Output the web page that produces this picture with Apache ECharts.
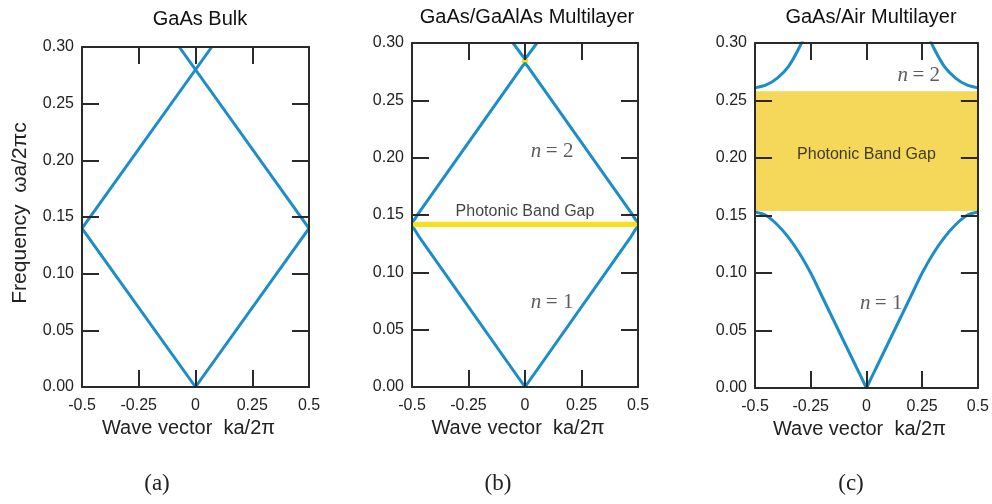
<!DOCTYPE html>
<html>
<head>
<meta charset="utf-8">
<script src="https://cdn.jsdelivr.net/npm/echarts@6/dist/echarts.min.js"></script>
<style>
  html, body { margin: 0; padding: 0; background: #fff; }
  #chart { width: 992px; height: 504px; }
</style>
</head>
<body>
<div id="chart"></div>
<script>
// Photonic band structures of three 1D systems (dispersion ω(k) in the first Brillouin zone)

const xTicks = [-0.5, -0.25, 0, 0.25, 0.5];
const yTicks = [0, 0.05, 0.10, 0.15, 0.20, 0.25, 0.30];

const panelTitles = ['GaAs Bulk', 'GaAs/GaAlAs Multilayer', 'GaAs/Air Multilayer'];
const panelTags = ['(a)', '(b)', '(c)'];

// (a) bulk GaAs: folded light line
const bulkV_k = [-0.5, 0, 0.5];
const bulkV_w = [0.14, 0, 0.14];
const bulkUp1_k = [-0.5, 0.0714];
const bulkUp1_w = [0.14, 0.30];
const bulkUp2_k = [0.5, -0.0714];
const bulkUp2_w = [0.14, 0.30];

// (b) GaAs/GaAlAs: weak contrast, narrow gaps
const mlB1_k = [-0.5, -0.49, -0.47, 0, 0.47, 0.49, 0.5];
const mlB1_w = [0.1395, 0.1378, 0.1314, 0, 0.1314, 0.1378, 0.1395];
const mlB2_k = [-0.5, -0.49, -0.47, -0.015, 0, 0.015, 0.47, 0.49, 0.5];
const mlB2_w = [0.144, 0.1457, 0.1518, 0.2788, 0.2825, 0.2788, 0.1518, 0.1457, 0.144];
const mlB3_k = [-0.053, -0.015, 0, 0.015, 0.053];
const mlB3_w = [0.30, 0.2898, 0.2862, 0.2898, 0.30];
const gapB = [[-0.5, 0.5, 0.1395, 0.1442], [-0.014, 0.014, 0.2825, 0.2862]];

// (c) GaAs/Air: strong contrast, wide gap
const airB1L_k = [-0.5, -0.45, -0.4, -0.35, -0.3, -0.25, -0.2, -0.15, -0.1, -0.05, 0];
const airB1L_w = [0.153, 0.150, 0.142, 0.131, 0.117, 0.100, 0.080, 0.060, 0.040, 0.020, 0];
const airB1R_k = [0, 0.05, 0.1, 0.15, 0.2, 0.25, 0.3, 0.35, 0.4, 0.45, 0.5];
const airB1R_w = [0, 0.020, 0.040, 0.060, 0.080, 0.100, 0.117, 0.131, 0.142, 0.150, 0.153];
const airB2L_k = [-0.5, -0.45, -0.4, -0.35, -0.3, -0.25];
const airB2L_w = [0.261, 0.2635, 0.2695, 0.2795, 0.2965, 0.318];
const airB2R_k = [0.25, 0.3, 0.35, 0.4, 0.45, 0.5];
const airB2R_w = [0.318, 0.2965, 0.2795, 0.2695, 0.2635, 0.261];
const gapC = [[-0.5, 0.5, 0.154, 0.258]];

// annotations [k, ω, text]
const notesB = [[0.12, 0.205, 'n2'], [0.12, 0.074, 'n1'], [0, 0.153, 'gap']];
const notesC = [[0.235, 0.272, 'n2'], [0.066, 0.0735, 'n1'], [0, 0.203, 'gap']];

const BLUE = '#1b8dc8';
const INK = '#2a2a2a';
const grids = [
  { left: 82, top: 47, width: 227, height: 340 },
  { left: 412, top: 43, width: 226, height: 344 },
  { left: 755, top: 43, width: 226, height: 345 }
];
const gapColors = [null, '#f7e11c', '#f5d85a'];

const zip = (ks, ws) => ks.map((k, i) => [k, ws[i]]);

const xAxes = [], yAxes = [], series = [];
grids.forEach((g, i) => {
  const common = {
    gridIndex: i, type: 'value', min: -0.5, max: 0.5, interval: 0.25, z: 5,
    axisLine: { show: true, onZero: false, lineStyle: { color: INK, width: 2 } },
    axisTick: { show: true, inside: true, length: 17, lineStyle: { color: INK, width: 2 } },
    splitLine: { show: false }
  };
  xAxes.push(Object.assign({}, common, {
    position: 'bottom',
    axisLabel: {
      margin: 11, fontFamily: 'Liberation Sans', fontSize: 16, color: '#222',
      formatter: v => (v === 0 ? '0' : String(v))
    },
    name: 'Wave vector  ka/2\u03c0', nameLocation: 'middle', nameGap: 30,
    nameTextStyle: { fontFamily: 'Liberation Sans', fontSize: 20, color: '#222', padding: [0, 14, 0, 0] }
  }));
  xAxes.push(Object.assign({}, common, { position: 'top', axisLabel: { show: false } }));
  const ycommon = {
    gridIndex: i, type: 'value', min: 0, max: 0.3, interval: 0.05, z: 5,
    axisLine: { show: true, onZero: false, lineStyle: { color: INK, width: 2 } },
    axisTick: { show: true, inside: true, length: 17, lineStyle: { color: INK, width: 2 } },
    splitLine: { show: false }
  };
  yAxes.push(Object.assign({}, ycommon, {
    position: 'left',
    axisLabel: { margin: 8, fontFamily: 'Liberation Sans', fontSize: 16, color: '#222', formatter: v => v.toFixed(2) }
  }));
  yAxes.push(Object.assign({}, ycommon, { position: 'right', axisLabel: { show: false } }));
});

function band(panel, ks, ws, smooth) {
  series.push({
    type: 'line', xAxisIndex: panel * 2, yAxisIndex: panel * 2,
    data: zip(ks, ws), symbol: 'none', smooth: smooth || false,
    lineStyle: { color: BLUE, width: 3 }, z: 3, clip: true, silent: true
  });
}
function gaps(panel, rects) {
  series.push({
    type: 'line', xAxisIndex: panel * 2, yAxisIndex: panel * 2, data: [], z: 1, silent: true,
    markArea: {
      silent: true,
      itemStyle: { color: gapColors[panel], opacity: 1 },
      data: rects.map(r => [{ coord: [r[0], r[2]] }, { coord: [r[1], r[3]] }])
    }
  });
}
function notes(panel, list) {
  series.push({
    type: 'scatter', xAxisIndex: panel * 2, yAxisIndex: panel * 2, symbolSize: 0, z: 6, silent: true,
    data: list.map(n => ({
      value: [n[0], n[1]],
      label: {
        show: true, position: 'inside',
        formatter: n[2] === 'gap' ? 'Photonic Band Gap' : '{i|n} {t|= ' + n[2].slice(1) + '}',
        fontFamily: 'Liberation Sans', fontSize: 16, color: '#111',
        rich: {
          i: { fontFamily: 'Liberation Serif', fontStyle: 'italic', fontSize: 21, color: '#333' },
          t: { fontFamily: 'Liberation Serif', fontSize: 21, color: '#333' }
        }
      }
    }))
  });
}

band(0, bulkV_k, bulkV_w);
band(0, bulkUp1_k, bulkUp1_w);
band(0, bulkUp2_k, bulkUp2_w);

gaps(1, gapB);
band(1, mlB1_k, mlB1_w);
band(1, mlB2_k, mlB2_w);
band(1, mlB3_k, mlB3_w);
notes(1, notesB);

gaps(2, gapC);
band(2, airB1L_k, airB1L_w, 0.3);
band(2, airB1R_k, airB1R_w, 0.3);
band(2, airB2L_k, airB2L_w, 0.3);
band(2, airB2R_k, airB2R_w, 0.3);
notes(2, notesC);

const titleCenters = [195, 522, 866];
const tagCenters = [157, 498, 851];

const chart = echarts.init(document.getElementById('chart'), null, { renderer: 'canvas' });
chart.setOption({
  animation: false,
  backgroundColor: '#fff',
  title: panelTitles.map((t, i) => ({
    text: t, left: titleCenters[i], top: i === 0 ? 4 : 2, textAlign: 'center',
    textStyle: { fontFamily: 'Liberation Sans', fontWeight: 'normal', fontSize: 20, color: '#111' }
  })),
  grid: grids,
  xAxis: xAxes,
  yAxis: yAxes,
  series: series,
  graphic: [
    {
      type: 'text', x: 20, y: 213, rotation: Math.PI / 2,
      style: { text: 'Frequency  \u03c9a/2\u03c0c', font: '21px "Liberation Sans"', fill: '#222',
               textAlign: 'center', textVerticalAlign: 'middle' }
    }
  ].concat(panelTags.map((t, i) => ({
    type: 'text', x: tagCenters[i], y: 484,
    style: { text: t, font: '23px "Liberation Serif"', fill: '#222', textAlign: 'center', textVerticalAlign: 'middle' }
  })))
});
</script>
</body>
</html>
